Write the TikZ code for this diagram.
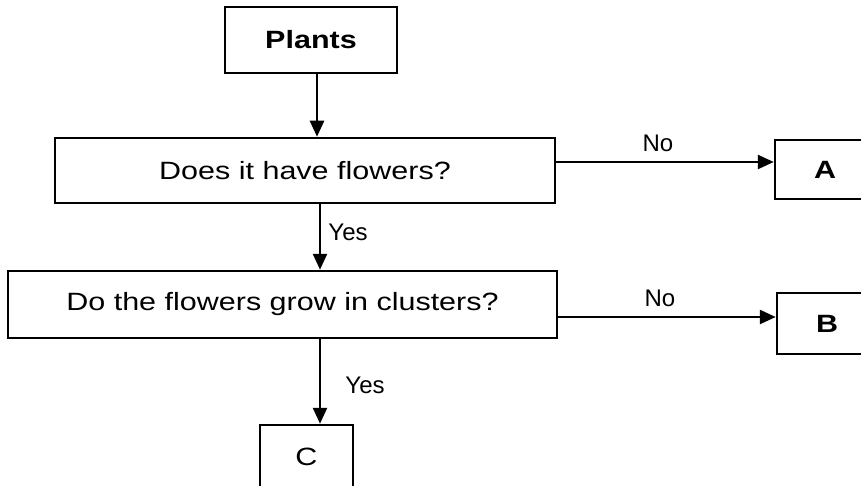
\documentclass[tikz,border=0pt]{standalone}
\usepackage{fontspec}
\setmainfont{Liberation Sans}
\newfontfamily\boxfont[FakeStretch=1.22]{Liberation Sans}
\usetikzlibrary{arrows.meta}
\tikzset{
  box/.style={draw, line width=2.5pt, inner sep=0pt, font=\boxfont\fontsize{25}{30}\selectfont},
  lbl/.style={inner sep=0pt, font=\fontsize{24}{28}\selectfont},
  arr/.style={line width=2.5pt, -{Triangle[length=16pt,width=14pt]}}
}
\begin{document}
\begin{tikzpicture}[x=1pt,y=-1pt]
\useasboundingbox (0,0) rectangle (861,486);
\clip (0,0) rectangle (861,486);
\fill[white] (0,0) rectangle (861,486);
\node[box, minimum width=172pt, minimum height=66pt] (p) at (311,40) {\bfseries Plants};
\node[box, minimum width=500pt, minimum height=65pt] (q1) at (305,170.5) {Does it have flowers?};
\node[box, minimum width=549pt, minimum height=67pt] (q2) at (282.5,304.5) {Do the flowers grow in clusters?};
\node[box, minimum width=100pt, minimum height=59pt] (a) at (825,169.5) {\bfseries A};
\node[box, minimum width=100pt, minimum height=61pt] (b) at (827,323.5) {\bfseries B};
\node[box, minimum width=93pt, minimum height=63pt] (c) at (306.5,456.5) {C};
\draw[arr] ([xshift=6pt]p.south) -- ([xshift=6pt]p.south |- q1.north);
\draw[arr] ([yshift=8.5pt]q1.east) -- ([yshift=8.5pt]q1.east -| a.west);
\draw[arr] ([xshift=15pt]q1.south) -- ([xshift=15pt]q1.south |- q2.north);
\draw[arr] ([yshift=-12.5pt]q2.east) -- ([yshift=-12.5pt]q2.east -| b.west);
\draw[arr] ([xshift=37.5pt]q2.south) -- ([xshift=37.5pt]q2.south |- c.north);
\node[lbl] (n1) at (658,143) {No};
\node[lbl] (n2) at (660,298) {No};
\node[lbl] (y1) at (348,232) {Yes};
\node[lbl] (y2) at (365,385) {Yes};
\end{tikzpicture}
\end{document}
